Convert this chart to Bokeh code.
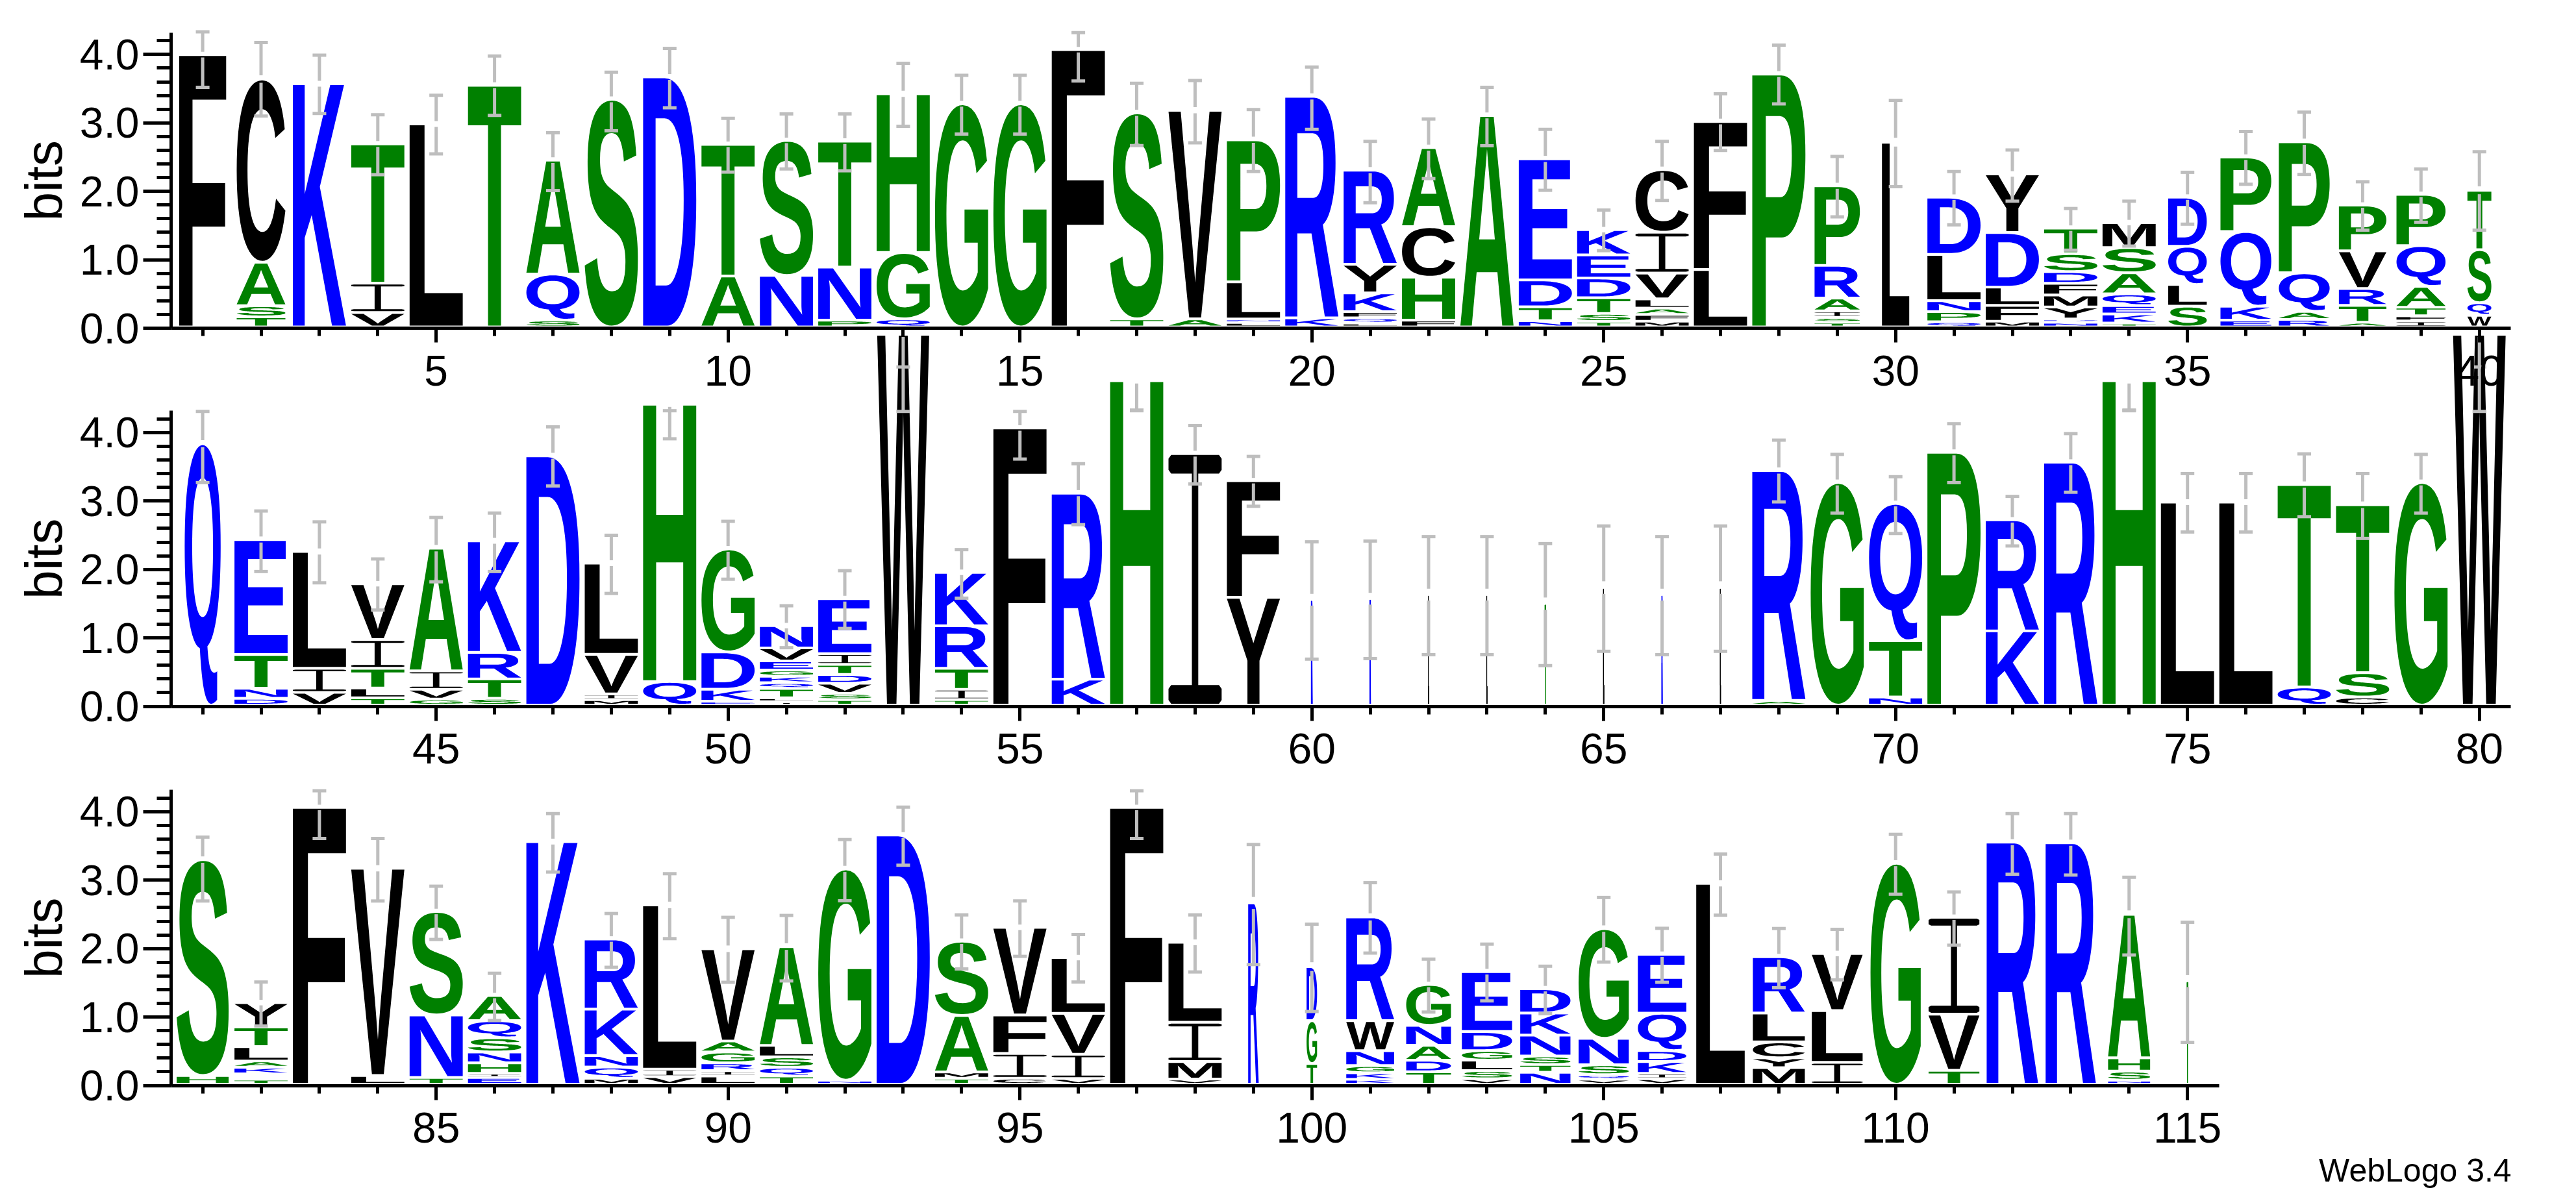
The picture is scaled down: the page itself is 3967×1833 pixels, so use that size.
import glob
import struct

import numpy as np
from bokeh.core.properties import value
from bokeh.embed import file_html
from bokeh.models import ColumnDataSource, FixedTicker, LinearAxis, PrintfTickFormatter, Range1d
from bokeh.plotting import figure
from bokeh.resources import INLINE

# letters of every stack from the bottom up, with their height in bits
stacks_row1 = [
    [("F", 3.98)],
    [("T", .148), ("S", .163), ("A", .635), ("C", 2.677)],
    [("K", 3.555)],
    [("V", .21), ("I", .43), ("T", 2.034)],
    [("L", 2.966)],
    [("T", 3.532)],
    [("S", .10), ("Q", .673), ("A", 1.665)],
    [("S", 3.327)],
    [("D", 3.654)],
    [("A", .745), ("T", 1.924)],
    [("N", .753), ("S", 1.973)],
    [("P", .099), ("N", .776), ("T", 1.84)],
    [("Q", .118), ("G", .97), ("H", 2.319)],
    [("G", 3.262)],
    [("G", 3.262)],
    [("F", 4.053)],
    [("T", .118), ("S", 3.011)],
    [("A", .118), ("V", 3.049)],
    [("L", .065), ("N", .05), ("L", .544), ("P", 2.076)],
    [("K", .133), ("R", 3.236)],
    [("L", .057), ("Q", .076), ("F", .091), ("K", .274), ("Y", .418), ("R", 1.376)],
    [("F", .10), ("H", .627), ("C", .738), ("A", 1.156)],
    [("A", 3.091)],
    [("N", .091), ("T", .202), ("D", .395), ("E", 1.768)],
    [("T", .08), ("S", .118), ("T", .228), ("D", .289), ("E", .338), ("K", .369)],
    [("M", .084), ("F", .099), ("A", .091), ("L", .137), ("V", .376), ("I", .597), ("C", .916)],
    [("L", .84), ("F", 2.163)],
    [("P", 3.696)],
    [("T", .068), ("S", .072), ("I", .095), ("A", .186), ("R", .479), ("P", 1.163)],
    [("L", 2.70)],
    [("Q", .076), ("P", .148), ("N", .16), ("L", .677), ("D", .836)],
    [("M", .084), ("F", .232), ("L", .266), ("D", .798), ("Y", .856)],
    [("N", .068), ("D", .049), ("Y", .175), ("M", .175), ("F", .171), ("D", .171), ("S", .262), ("T", .373)],
    [("T", .057), ("K", .133), ("E", .122), ("Q", .171), ("A", .308), ("S", .369), ("M", .365)],
    [("S", .304), ("L", .316), ("Q", .559), ("D", .719)],
    [("E", .099), ("K", .205), ("Q", 1.091), ("P", 1.087)],
    [("R", .11), ("A", .118), ("Q", .563), ("P", 1.916)],
    [("A", .068), ("T", .247), ("R", .247), ("V", .551), ("P", .669)],
    [("I", .087), ("F", .076), ("T", .125), ("A", .304), ("Q", .597), ("P", .749)],
    [("W", .171), ("Q", .183), ("S", .776), ("T", .867)],
]
stacks_row2 = [
    [("Q", 3.82)],
    [("D", .099), ("N", .148), ("T", .493), ("E", 1.68)],
    [("V", .186), ("I", .353), ("L", 1.706)],
    [("T", .106), ("L", .144), ("T", .288), ("I", .421), ("V", .815)],
    [("G", .087), ("V", .144), ("I", .269), ("A", 1.794)],
    [("S", .099), ("T", .284), ("R", .387), ("K", 1.631)],
    [("D", 3.644)],
    [("M", .08), ("I", .083), ("V", .58), ("L", 1.331)],
    [("Q", .345), ("H", 4.053)],
    [("E", .057), ("K", .175), ("D", .546), ("G", 1.505)],
    [("I", .05), ("L", .057), ("T", .137), ("Q", .083), ("K", .095), ("G", .091), ("E", .133), ("V", .19), ("N", .326)],
    [("T", .08), ("S", .091), ("V", .148), ("D", .129), ("T", .148), ("I", .155), ("E", .804)],
    [("W", 5.42)],
    [("T", .08), ("I", .151), ("T", .307), ("R", .622), ("K", .781)],
    [("F", 4.05)],
    [("K", .379), ("R", 2.719)],
    [("H", 4.74)],
    [("I", 3.675)],
    [("Y", 1.574), ("F", 1.706)],
    [("R", 1.54)],
    [("K", 1.555)],
    [("L", 1.615)],
    [("L", 1.615)],
    [("T", 1.483)],
    [("L", 1.718)],
    [("R", 1.615)],
    [("L", 1.718)],
    [("A", .068), ("R", 3.36)],
    [("G", 3.254)],
    [("N", .118), ("T", .823), ("Q", 2.006)],
    [("P", 3.694)],
    [("K", 1.085), ("R", 1.623)],
    [("R", 3.55)],
    [("H", 4.74)],
    [("L", 2.966)],
    [("L", 2.966)],
    [("Q", .265), ("T", 2.958)],
    [("C", .118), ("S", .356), ("T", 2.454)],
    [("G", 3.254)],
    [("W", 5.42)],
]
stacks_row3 = [
    [("H", .128), ("S", 3.155)],
    [("T", .072), ("N", .04), ("E", .04), ("K", .096), ("A", .092), ("L", .211), ("T", .287), ("Y", .355)],
    [("F", 4.045)],
    [("L", .128), ("V", 3.028)],
    [("T", .10), ("N", .913), ("S", 1.512)],
    [("E", .10), ("I", .06), ("H", .152), ("N", .16), ("S", .207), ("Q", .251), ("A", .367)],
    [("K", 3.546)],
    [("M", .088), ("Q", .164), ("N", .168), ("K", .678), ("R", 1.025)],
    [("V", .112), ("I", .108), ("L", 2.401)],
    [("L", .12), ("I", .08), ("R", .112), ("G", .16), ("A", .16), ("V", 1.348)],
    [("T", .12), ("Q", .128), ("S", .152), ("L", .168), ("A", 1.444)],
    [("N", .06), ("G", 3.087)],
    [("D", 3.642)],
    [("T", .088), ("M", .092), ("A", .826), ("S", 1.085)],
    [("C", .088), ("I", .363), ("F", .562), ("V", 1.28)],
    [("V", .084), ("I", .355), ("V", .598), ("L", .814)],
    [("F", 4.045)],
    [("V", .076), ("M", .255), ("I", .574), ("L", 1.169)],
    [("R", 2.649)],
    [("T", .303), ("G", .626), ("D", .79)],
    [("K", .072), ("K", .096), ("G", .104), ("N", .219), ("W", .439), ("R", 1.516)],
    [("T", .183), ("D", .168), ("A", .219), ("N", .291), ("G", .598)],
    [("V", .08), ("S", .12), ("L", .152), ("G", .14), ("D", .279), ("E", .874)],
    [("N", .176), ("T", .112), ("S", .124), ("N", .307), ("K", .323), ("D", .355)],
    [("V", .072), ("Q", .068), ("S", .144), ("N", .387), ("G", 1.603)],
    [("V", .08), ("I", .08), ("K", .172), ("D", .16), ("Q", .546), ("E", .862)],
    [("L", 2.936)],
    [("M", .243), ("Y", .144), ("C", .231), ("L", .423), ("R", .822)],
    [("I", .319), ("L", .758), ("V", .834)],
    [("G", 3.231)],
    [("T", .203), ("V", .822), ("I", 1.416)],
    [("R", 3.538)],
    [("R", 3.53)],
    [("N", .06), ("S", .131), ("H", .195), ("A", 2.098)],
    [("T", 1.508)],
]

# width of every stack, in positions
widths_row1 = [.805, .834, .91, .91, .91, .91, .91, .91, .91, .91, .91, .91, .91, .91, .91, .91, .91, .91, .91, .91,
               .91, .91, .91, .91, .91, .91, .91, .91, .776, .467, .91, .91, .91, .91, .66, .87, .87, .813, .84, .41]
widths_row2 = [.616, .91, .91, .91, .91, .91, .91, .91, .91, .91, .91, .91, .89, .91, .91, .91, .91, .91, .91, .02,
               .015, .012, .01, .015, .012, .012, .01, .91, .91, .91, .91, .91, .91, .91, .91, .91, .91, .91, .91, .9]
widths_row3 = [.89, .91, .91, .91, .91, .91, .91, .91, .91, .91, .91, .91, .91, .91, .91, .91, .91, .91, .18, .18,
               .82, .767, .86, .86, .86, .83, .83, .89, .87, .86, .87, .88, .86, .72, .018]

# error bar ends, in bits
upper_row1 = [4.33, 4.175, 3.99, 3.118, 3.403, 3.977, 2.855, 3.741, 4.09, 3.068, 3.13, 3.13, 3.871, 3.696, 3.696, 4.32,
              3.58, 3.62, 3.194, 3.817, 2.73, 3.057, 3.52, 2.905, 1.726, 2.73, 3.426, 4.137, 2.51, 3.33, 2.289, 2.605,
              1.749, 1.856, 2.278, 2.875, 3.156, 2.14, 2.327, 2.578]
lower_row1 = [3.52, 3.10, 3.137, 2.243, 2.548, 3.11, 2.011, 2.885, 3.22, 2.281, 2.327, 2.30, 2.95, 2.836, 2.836, 3.612,
              2.669, 2.708, 2.289, 2.905, 1.833, 2.186, 2.665, 2.015, 1.133, 1.867, 2.597, 3.278, 1.627, 2.068, 1.51,
              1.856, 1.14, 1.2, 1.52, 2.103, 2.247, 1.433, 1.548, 1.433]
upper_row2 = [4.31, 2.855, 2.696, 2.154, 2.76, 2.825, 4.084, 2.5, 4.32, 2.704, 1.47, 1.983, 4.96, 2.29, 4.31, 3.546,
              4.33, 4.103, 3.652, 2.404, 2.416, 2.48, 2.48, 2.378, 2.636, 2.48, 2.636, 3.89, 3.682, 3.356, 4.13, 3.068,
              3.986, 4.33, 3.402, 3.402, 3.69, 3.402, 3.682, 4.96]
lower_row2 = [3.27, 1.97, 1.805, 1.407, 1.82, 1.97, 3.22, 1.65, 3.91, 1.858, .857, 1.138, 4.31, 1.581, 3.614, 2.655,
              4.32, 3.25, 2.924, .69, .698, .755, .755, .595, .804, .755, .804, 2.988, 2.825, 2.526, 3.269, 2.344,
              3.129, 4.32, 2.548, 2.548, 2.772, 2.454, 2.825, 4.31]
upper_row3 = [3.63, 1.512, 4.307, 3.61, 2.912, 1.64, 3.973, 2.513, 3.095, 2.457, 2.485, 3.594, 4.068, 2.493, 2.697,
              2.206, 4.307, 2.493, 3.522, 2.357, 2.964, 1.847, 2.066, 1.743, 2.748, 2.297, 3.382, 2.294, 2.282, 3.67,
              2.828, 3.973, 3.973, 3.043, 2.385]
lower_row3 = [2.696, .87, 3.61, 2.696, 2.134, .949, 3.12, 1.727, 2.146, 1.508, 1.528, 2.70, 3.219, 1.703, 1.887,
              1.512, 3.61, 1.659, 1.767, 1.081, 1.935, 1.073, 1.236, 1.049, 1.803, 1.508, 2.489, 1.428, 1.544, 2.796,
              2.05, 3.087, 3.075, 1.907, .63]

y_major = [0, 1, 2, 3, 4]
y_minor = [.2, .4, .6, .8, 1.2, 1.4, 1.6, 1.8, 2.2, 2.4, 2.6, 2.8, 3.2, 3.4, 3.6, 3.8, 4.2]

colors = {}
for letters, color in [("CFILMVWY", "#000000"), ("AGHPST", "#008000"), ("DEKNQR", "#0000ff")]:
    for c in letters:
        colors[c] = color

W, H = 3940, 1833
STEP = 89.9  # px per position
BIT = 105.4  # px per bit
X_FIRST = 311.6  # canvas px of position 1 of a row
ROW_ZERO = [505.0, 1087.5, 1671.5]  # canvas px of 0 bits


def read_outlines(wanted):
    # the logo letters are stretched to fit their box, which Text glyphs cannot do,
    # so take the outlines out of the bold font and draw them as polygons
    path = glob.glob("/usr/**/LiberationSans-Bold.ttf", recursive=True)[0]
    d = open(path, "rb").read()
    n = struct.unpack(">H", d[4:6])[0]
    tab = {}
    for i in range(n):
        tag, _, off, _ = struct.unpack(">4sIII", d[12 + i * 16:28 + i * 16])
        tab[tag.decode()] = off
    long_loca = struct.unpack(">h", d[tab["head"] + 50:tab["head"] + 52])[0]

    # cmap, format 4 subtable
    cm = tab["cmap"]
    ntab = struct.unpack(">H", d[cm + 2:cm + 4])[0]
    sub = None
    for i in range(ntab):
        pid, eid, off = struct.unpack(">HHI", d[cm + 4 + i * 8:cm + 12 + i * 8])
        if struct.unpack(">H", d[cm + off:cm + off + 2])[0] == 4:
            sub = cm + off
            break
    seg = struct.unpack(">H", d[sub + 6:sub + 8])[0] // 2

    def u16(p):
        return struct.unpack(">H", d[p:p + 2])[0]

    def gid(ch):
        code = ord(ch)
        for i in range(seg):
            end = u16(sub + 14 + i * 2)
            if code <= end:
                start = u16(sub + 16 + seg * 2 + i * 2)
                delta = u16(sub + 16 + seg * 4 + i * 2)
                ro_pos = sub + 16 + seg * 6 + i * 2
                ro = u16(ro_pos)
                if ro == 0:
                    return (code + delta) & 0xFFFF
                return (u16(ro_pos + ro + (code - start) * 2) + delta) & 0xFFFF

    out = {}
    for ch in wanted:
        g = gid(ch)
        if long_loca:
            o = struct.unpack(">I", d[tab["loca"] + g * 4:tab["loca"] + g * 4 + 4])[0]
        else:
            o = u16(tab["loca"] + g * 2) * 2
        p = tab["glyf"] + o
        nc = struct.unpack(">h", d[p:p + 2])[0]
        p += 10
        ends = [u16(p + i * 2) for i in range(nc)]
        p += nc * 2
        p += 2 + u16(p)
        npts = ends[-1] + 1
        flags = []
        while len(flags) < npts:
            f = d[p]
            p += 1
            flags.append(f)
            if f & 8:
                flags.extend([f] * d[p])
                p += 1
        coords = []
        for short, same in [(2, 16), (4, 32)]:
            v = 0
            vals = []
            for f in flags:
                if f & short:
                    v += d[p] if f & same else -d[p]
                    p += 1
                elif not f & same:
                    v += struct.unpack(">h", d[p:p + 2])[0]
                    p += 2
                vals.append(v)
            coords.append(vals)
        rings = []
        start = 0
        for e in ends:
            pts = [(coords[0][i], coords[1][i], flags[i] & 1) for i in range(start, e + 1)]
            start = e + 1
            # put in the implied on-curve points
            full = []
            for i, a in enumerate(pts):
                b = pts[(i + 1) % len(pts)]
                full.append(a)
                if not a[2] and not b[2]:
                    full.append(((a[0] + b[0]) / 2, (a[1] + b[1]) / 2, 1))
            first = next(i for i, a in enumerate(full) if a[2])
            full = full[first:] + full[:first]
            ring = []
            i = 0
            while i < len(full):
                a = full[i]
                ring.append((a[0], a[1]))
                nxt = full[(i + 1) % len(full)]
                if not nxt[2]:
                    end = full[(i + 2) % len(full)]
                    for t in np.linspace(0, 1, 9)[1:-1]:
                        ring.append(((1 - t) ** 2 * a[0] + 2 * t * (1 - t) * nxt[0] + t * t * end[0],
                                     (1 - t) ** 2 * a[1] + 2 * t * (1 - t) * nxt[1] + t * t * end[1]))
                    i += 2
                else:
                    i += 1
            rings.append(ring)
        # outer ring first, and everything scaled into the unit box
        def area(r):
            a = np.array(r)
            return abs(np.dot(a[:, 0], np.roll(a[:, 1], 1)) - np.dot(a[:, 1], np.roll(a[:, 0], 1)))
        rings.sort(key=area, reverse=True)
        all_pts = np.array([q for r in rings for q in r])
        lo, hi = all_pts.min(axis=0), all_pts.max(axis=0)
        out[ch] = [(np.array(r) - lo) / (hi - lo) for r in rings]
    return out


outlines = read_outlines("ACDEFGHKLMNPQRSTVWY")
# WebLogo's I has slabs, unlike the sans one
outlines["I"] = [np.array([
    (.44, 0), (.44, 0), (.05, 0), (0, .015), (0, .06), (.05, .075), (.44, .075), (.44, .925), (.05, .925),
    (0, .94), (0, .985), (.05, 1), (.95, 1), (1, .985), (1, .94), (.95, .925), (.56, .925), (.56, .075),
    (.95, .075), (1, .06), (1, .015), (.95, 0),
])]

p = figure(width=W, height=H, x_axis_type=None, y_axis_type=None, output_backend="svg", toolbar_location=None,
           min_border=0, outline_line_color=None,
           x_range=Range1d(-3, 41), y_range=Range1d(0, 1))


def draw_row(i, first, stacks, widths, upper, lower):
    xname, yname = "x%d" % i, "y%d" % i
    off = first - 1
    p.extra_x_ranges[xname] = Range1d(off + 1 - X_FIRST / STEP, off + 1 + (W - X_FIRST) / STEP)
    p.extra_y_ranges[yname] = Range1d((ROW_ZERO[i] - H) / BIT, ROW_ZERO[i] / BIT)

    wide = dict(xs=[], ys=[], color=[])
    thin = dict(xs=[], ys=[], color=[])
    tops = []
    for k, (stack, w) in enumerate(zip(stacks, widths)):
        pos = first + k
        y = .018
        for letter, h in stack:
            rings = outlines[letter]
            pick = thin if w < .05 else wide
            pick["xs"].append([[list(pos - w / 2 + r[:, 0] * w) for r in rings]])
            pick["ys"].append([[list(y + .02 + r[:, 1] * (h - .04)) for r in rings]])
            pick["color"].append(colors[letter])
            y += h
        tops.append(y)
    p.multi_polygons("xs", "ys", source=ColumnDataSource(wide), fill_color="color", line_color=None,
                     x_range_name=xname, y_range_name=yname)
    if thin["xs"]:
        p.multi_polygons("xs", "ys", source=ColumnDataSource(thin), fill_color="color", line_color="color",
                         line_width=1, x_range_name=xname, y_range_name=yname)

    # error bars, with an opening round the top of the stack
    px, py0, py1 = [], [], []
    for k, (top, up, low) in enumerate(zip(tops, upper, lower)):
        gap = max(.04, .05 * (up - low))
        if up > top + gap:
            px.append(first + k)
            py0.append(top + gap)
            py1.append(up)
        if low < top - gap:
            px.append(first + k)
            py0.append(low)
            py1.append(top - gap)
    p.segment(px, py0, px, py1, line_color="#bebebe", line_width=5, x_range_name=xname, y_range_name=yname)
    cx = np.array([first + k for k in range(len(stacks))] * 2, dtype=float)
    cy = list(upper) + list(lower)
    p.segment(cx - .117, cy, cx + .117, cy, line_color="#bebebe", line_width=5, x_range_name=xname, y_range_name=yname)

    last = first + len(stacks) - 1
    majors = [t for t in range(first, last + 1) if t % 5 == 0]
    xaxis = LinearAxis(x_range_name=xname, y_range_name=yname, fixed_location=0, bounds=(first - .54, last + .54),
                       ticker=FixedTicker(ticks=majors, minor_ticks=list(range(first, last + 1))),
                       major_tick_in=0, major_tick_out=22, minor_tick_in=0, minor_tick_out=12,
                       major_tick_line_width=5, minor_tick_line_width=5, axis_line_width=5,
                       major_label_text_font="Liberation Sans", major_label_text_font_size="66px",
                       major_label_text_color="black", major_label_standoff=20)
    p.add_layout(xaxis, "below")
    yaxis = LinearAxis(x_range_name=xname, y_range_name=yname, fixed_location=first - .54, bounds=(0, 4.32),
                       ticker=FixedTicker(ticks=y_major, minor_ticks=y_minor),
                       formatter=PrintfTickFormatter(format="%.1f"),
                       major_tick_in=0, major_tick_out=43, minor_tick_in=0, minor_tick_out=22,
                       major_tick_line_width=5, minor_tick_line_width=5, axis_line_width=5,
                       major_label_text_font="Liberation Sans", major_label_text_font_size="66px",
                       major_label_text_color="black", major_label_standoff=6)
    p.add_layout(yaxis, "left")
    p.text([first - 2.72], [2.155], text=["bits"], angle=np.pi / 2, text_align="center", text_baseline="alphabetic",
           text_font=value("Liberation Sans"), text_font_size="80px", text_color="black",
           x_range_name=xname, y_range_name=yname)


draw_row(0, 1, stacks_row1, widths_row1, upper_row1, lower_row1)
draw_row(1, 41, stacks_row2, widths_row2, upper_row2, lower_row2)
draw_row(2, 81, stacks_row3, widths_row3, upper_row3, lower_row3)

p.text([120.55], [-1.24], text=["WebLogo 3.4"], text_align="right", text_baseline="alphabetic",
       text_font=value("Liberation Sans"), text_font_size="50px", text_color="black",
       x_range_name="x2", y_range_name="y2")

open("out.html", "w").write(file_html(p, INLINE))
